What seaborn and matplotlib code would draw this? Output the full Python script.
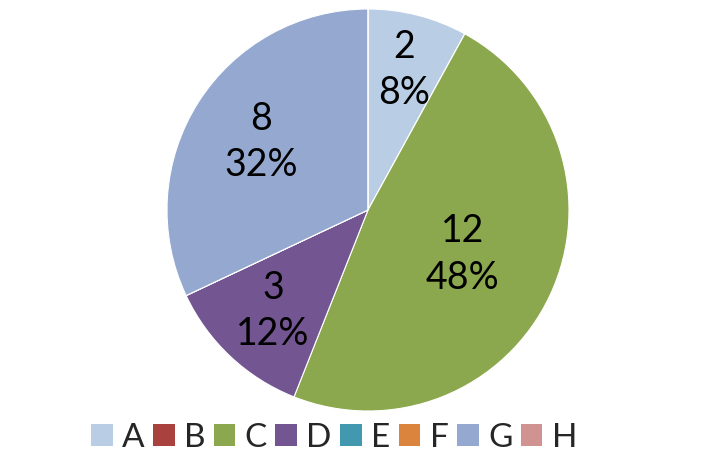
import matplotlib
matplotlib.use("Agg")
import matplotlib.pyplot as plt
import matplotlib.patches as mpatches
import seaborn as sns
import numpy as np

# data
categories = ['A', 'B', 'C', 'D', 'E', 'F', 'G', 'H']
values = [2, 0, 12, 3, 0, 0, 8, 0]
colors = ['#B9CDE5', '#A9413E', '#8BA84E', '#735591',
          '#4198AF', '#DB843D', '#95A9D0', '#D19392']
# how far out each label sits (fraction of radius)
label_dist = [0.72, 0.6, 0.52, 0.69, 0.6, 0.6, 0.63, 0.6]

sns.set_theme(style='white')
plt.rcParams['font.family'] = ['Lato', 'DejaVu Sans']
palette = sns.color_palette(colors)

fig = plt.figure(figsize=(7.2, 4.7), dpi=100)
ax = fig.add_axes([167 / 720, 59 / 470, 402 / 720, 402 / 470])

wedges, _ = ax.pie(values, colors=palette, startangle=90, counterclock=False,
                   radius=1, wedgeprops=dict(edgecolor='white', linewidth=0.8))
ax.set_xlim(-1, 1)
ax.set_ylim(-1, 1)
ax.set_aspect('equal')
ax.axis('off')

total = sum(values)
for w, v, d in zip(wedges, values, label_dist):
    if v == 0:
        continue
    ang = np.deg2rad((w.theta1 + w.theta2) / 2)
    ax.text(d * np.cos(ang), d * np.sin(ang),
            f"{v}\n{v / total:.0%}", ha='center', va='center',
            fontsize=27, linespacing=1.35, color='black')

handles = [mpatches.Patch(facecolor=c, edgecolor='none') for c in palette]
fig.legend(handles, categories, loc='center', ncol=len(categories),
           bbox_to_anchor=(334 / 720, 1 - 438 / 470), frameon=False,
           fontsize=24, handlelength=0.65, handleheight=0.65,
           handletextpad=0.28, columnspacing=0.25, borderpad=0)

fig.savefig("out.png", dpi=100)
